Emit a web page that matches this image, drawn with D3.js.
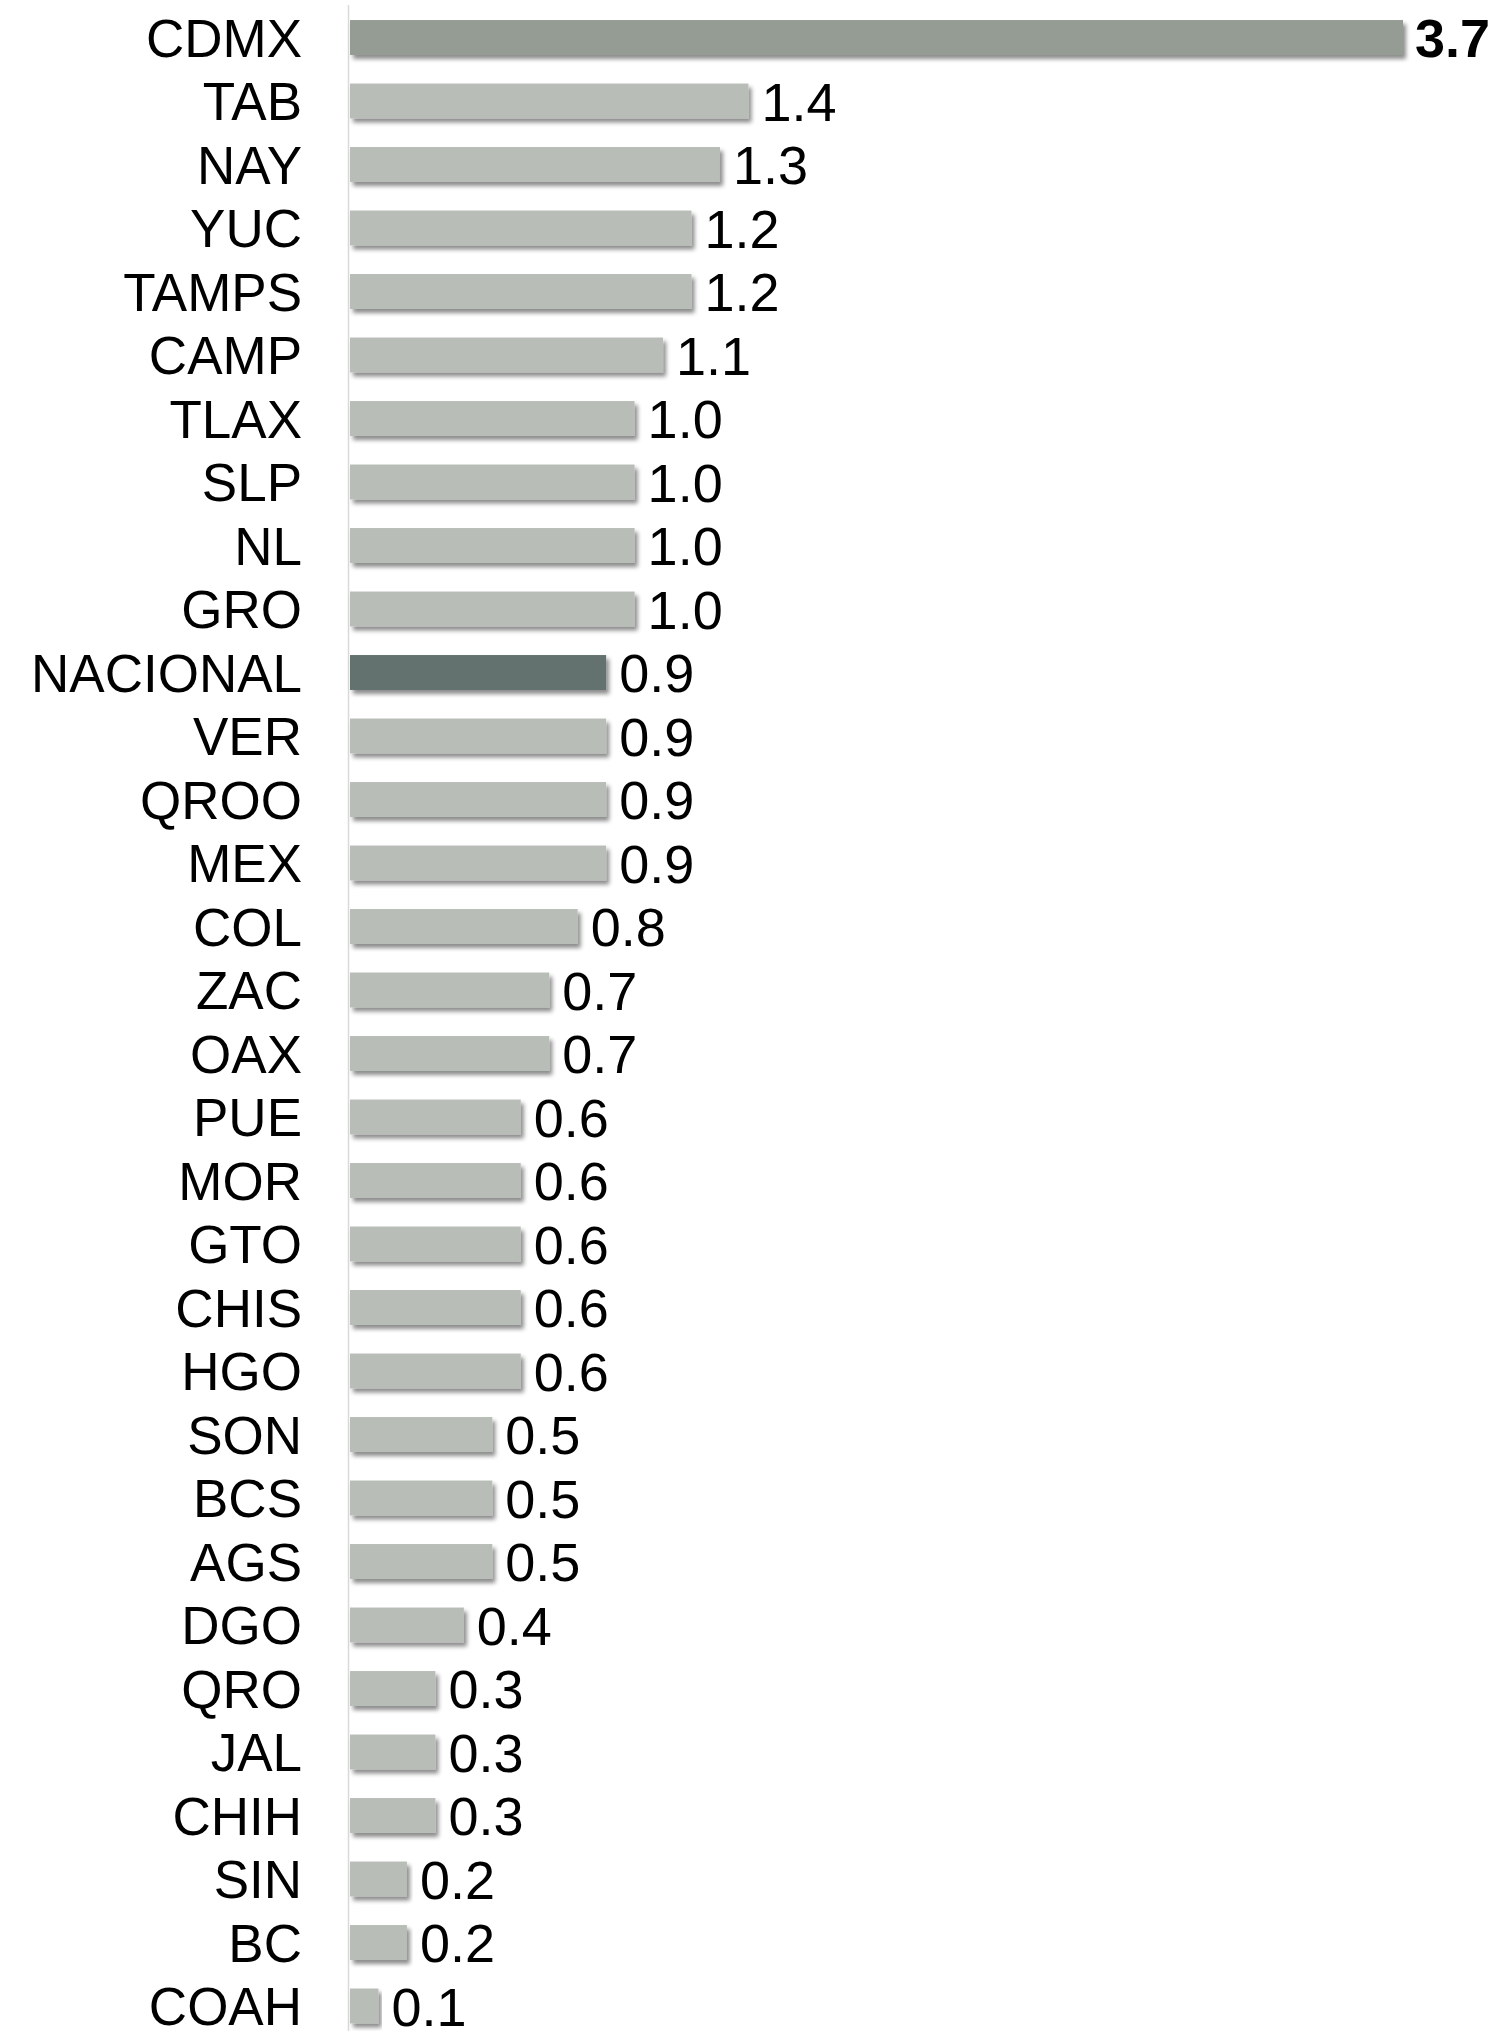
<!DOCTYPE html>
<meta charset="utf-8">
<style>
body { margin: 0; background: #fff; }
text { font-family: "Liberation Sans", Arial, sans-serif; }
</style>
<body>
<script src="https://d3js.org/d3.v7.min.js"></script>
<script>

// states, sorted as in the picture
var states = ["CDMX", "TAB", "NAY", "YUC", "TAMPS", "CAMP", "TLAX", "SLP", "NL", "GRO",
  "NACIONAL", "VER", "QROO", "MEX", "COL", "ZAC", "OAX", "PUE", "MOR", "GTO", "CHIS",
  "HGO", "SON", "BCS", "AGS", "DGO", "QRO", "JAL", "CHIH", "SIN", "BC", "COAH"];

var values = [3.7, 1.4, 1.3, 1.2, 1.2, 1.1, 1.0, 1.0, 1.0, 1.0,
  0.9, 0.9, 0.9, 0.9, 0.8, 0.7, 0.7, 0.6, 0.6, 0.6, 0.6,
  0.6, 0.5, 0.5, 0.5, 0.4, 0.3, 0.3, 0.3, 0.2, 0.2, 0.1];

var data = states.map(function(s, i) { return {name: s, value: values[i]}; });

var width = 1496, height = 2031;

var x = d3.scaleLinear().domain([0, 3.7]).range([350, 1403]);
var y = d3.scaleBand().domain(states).range([5.75, 2037.75])
    .paddingInner(0.45).paddingOuter(0.225);

function barColor(d) {
  if (d.name === "CDMX") return "#949c94";
  if (d.name === "NACIONAL") return "#63726e";
  return "#b8bdb7";
}

var svg = d3.select("body").append("svg")
    .attr("width", width)
    .attr("height", height);

// soft shadow under bars
var f = svg.append("defs").append("filter")
    .attr("id", "shadow")
    .attr("x", "-5%").attr("y", "-30%")
    .attr("width", "115%").attr("height", "180%");
f.append("feDropShadow")
    .attr("dx", 3).attr("dy", 4)
    .attr("stdDeviation", 2)
    .attr("flood-color", "#000")
    .attr("flood-opacity", 0.45);

// vertical axis line
svg.append("line")
    .attr("x1", x(0) - 1.5).attr("x2", x(0) - 1.5)
    .attr("y1", 5).attr("y2", height)
    .attr("stroke", "#d9d9d9")
    .attr("stroke-width", 1.5);

// bars
svg.selectAll(".bar")
    .data(data)
  .enter().append("rect")
    .attr("class", "bar")
    .attr("x", x(0))
    .attr("y", function(d) { return y(d.name); })
    .attr("width", function(d) { return x(d.value) - x(0); })
    .attr("height", y.bandwidth())
    .attr("fill", barColor)
    .attr("filter", "url(#shadow)");

// category labels
svg.selectAll(".label")
    .data(data)
  .enter().append("text")
    .attr("class", "label")
    .attr("x", 302)
    .attr("y", function(d) { return y(d.name) + y.bandwidth() / 2 + 19; })
    .attr("text-anchor", "end")
    .attr("font-size", 53)
    .attr("fill", "#000")
    .text(function(d) { return d.name; });

// value labels
var fmt = d3.format(".1f");
svg.selectAll(".val")
    .data(data)
  .enter().append("text")
    .attr("class", "val")
    .attr("x", function(d) { return x(d.value) + (d.name === "CDMX" ? 12 : 13); })
    .attr("y", function(d) { return y(d.name) + y.bandwidth() / 2 + 19.5; })
    .attr("font-size", 54)
    .attr("font-weight", function(d) { return d.name === "CDMX" ? "bold" : "normal"; })
    .attr("fill", "#000")
    .text(function(d) { return fmt(d.value); });

</script>
</body>
